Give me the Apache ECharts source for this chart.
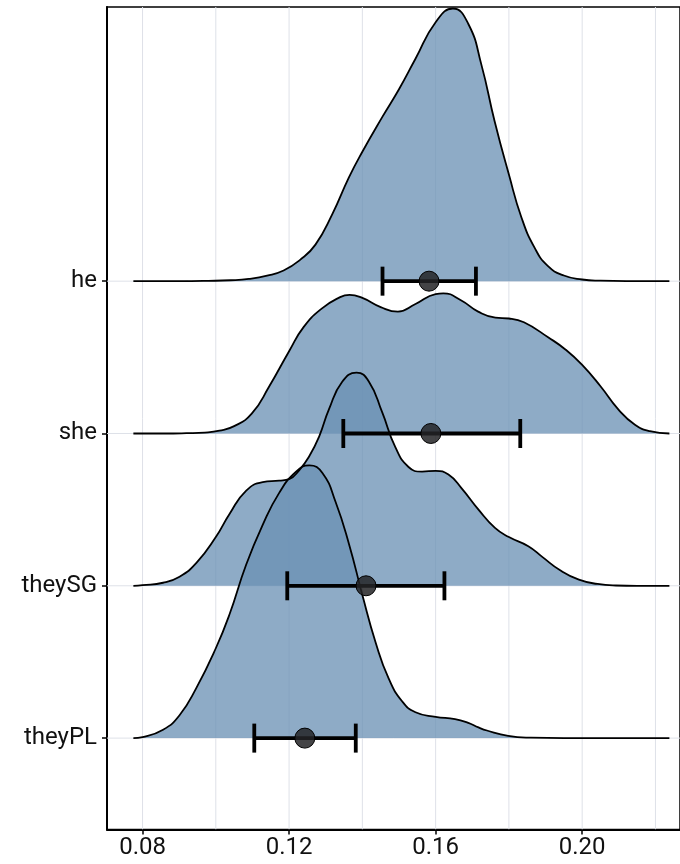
<!DOCTYPE html>
<html><head><meta charset="utf-8">
<script src="https://cdn.jsdelivr.net/npm/echarts@6/dist/echarts.min.js"></script>
<style>html,body{margin:0;padding:0;background:#fff}#c{width:680px;height:864px}</style>
</head><body><div id="c"></div>
<script>
// categories bottom -> top
const categories = ['theyPL', 'theySG', 'she', 'he'];
const xTicks = [0.08, 0.12, 0.16, 0.20];
const xGrid = [0.08, 0.10, 0.12, 0.14, 0.16, 0.18, 0.20, 0.22];

// ridge heights (in category units) at x
const heDensity = [[0.0775,0],[0.090,0],[0.098,0.002],[0.104,0.006],[0.109,0.015],[0.114,0.036],[0.1185,0.07],[0.123,0.14],[0.1272,0.24],[0.1318,0.44],[0.1363,0.68],[0.140,0.85],[0.1455,1.08],[0.150,1.26],[0.1545,1.46],[0.160,1.70],[0.1647,1.79],[0.1689,1.69],[0.1725,1.42],[0.1761,1.05],[0.180,0.70],[0.1834,0.42],[0.187,0.22],[0.1906,0.10],[0.195,0.037],[0.200,0.011],[0.205,0.003],[0.212,0],[0.2238,0]];
const sheDensity = [[0.0775,0],[0.086,0],[0.092,0.002],[0.097,0.006],[0.101,0.018],[0.105,0.048],[0.1098,0.13],[0.1146,0.31],[0.120,0.54],[0.124,0.70],[0.1289,0.82],[0.1335,0.89],[0.1365,0.91],[0.140,0.89],[0.145,0.83],[0.1497,0.80],[0.1545,0.85],[0.160,0.915],[0.1621,0.92],[0.1669,0.875],[0.1716,0.80],[0.1763,0.76],[0.180,0.755],[0.1841,0.73],[0.1908,0.63],[0.1955,0.55],[0.200,0.45],[0.205,0.31],[0.2098,0.16],[0.2144,0.058],[0.2185,0.015],[0.2238,0]];
const theySGDensity = [[0.0775,0],[0.080,0.004],[0.0856,0.02],[0.0901,0.06],[0.0947,0.15],[0.100,0.32],[0.1037,0.47],[0.1083,0.625],[0.1128,0.68],[0.1173,0.69],[0.120,0.70],[0.1228,0.76],[0.1255,0.85],[0.1282,0.98],[0.1309,1.16],[0.1345,1.34],[0.1384,1.40],[0.1418,1.34],[0.1454,1.14],[0.149,0.91],[0.1526,0.78],[0.1563,0.75],[0.160,0.755],[0.1635,0.73],[0.1671,0.64],[0.1717,0.50],[0.1762,0.38],[0.180,0.32],[0.1853,0.26],[0.1891,0.19],[0.1941,0.10],[0.1991,0.04],[0.2042,0.012],[0.2092,0.002],[0.215,0],[0.2238,0]];
const theyPLDensity = [[0.0775,0],[0.080,0.007],[0.0856,0.055],[0.0901,0.15],[0.0947,0.33],[0.100,0.59],[0.1037,0.81],[0.1083,1.14],[0.1128,1.40],[0.1173,1.61],[0.1219,1.75],[0.1255,1.79],[0.1291,1.74],[0.1327,1.55],[0.1364,1.27],[0.140,0.94],[0.1436,0.63],[0.1472,0.39],[0.1509,0.24],[0.1545,0.17],[0.160,0.14],[0.1653,0.125],[0.1689,0.10],[0.1717,0.07],[0.174,0.05],[0.1798,0.015],[0.186,0.003],[0.195,0],[0.2238,0]];

// interval estimates (bottom -> top)
const ciLow  = [0.1105, 0.1195, 0.1348, 0.1455];
const means  = [0.1243, 0.1410, 0.1587, 0.1582];
const ciHigh = [0.1382, 0.1624, 0.1831, 0.1710];

const densities = [theyPLDensity, theySGDensity, sheDensity, heDensity];
const X_MIN = 0.0703, X_MAX = 0.2267, Y_MIN = 0.4, Y_MAX = 5.8;
const FILL = 'rgba(107,145,180,0.76)';
const GRID_COLOR = '#DEE1E8';

const chart = echarts.init(document.getElementById('c'), null, {renderer: 'canvas'});

const series = [];
series.push({
  type: 'custom', silent: true, z: 1, clip: true,
  data: xGrid.map(v => [v, Y_MIN]),
  encode: {x: 0, y: 1},
  renderItem: (params, api) => {
    const x = api.value(0);
    const p1 = api.coord([x, Y_MIN]), p2 = api.coord([x, Y_MAX]);
    return {type: 'line', shape: {x1: p1[0], y1: p1[1], x2: p2[0], y2: p2[1]}, style: {stroke: GRID_COLOR, lineWidth: 1}};
  }
});
series.push({
  type: 'custom', silent: true, z: 1, clip: true,
  data: categories.map((c, i) => [X_MIN, i + 1]),
  encode: {x: 0, y: 1},
  renderItem: (params, api) => {
    const y = api.value(1);
    const p1 = api.coord([X_MIN, y]), p2 = api.coord([X_MAX, y]);
    return {type: 'line', shape: {x1: p1[0], y1: p1[1], x2: p2[0], y2: p2[1]}, style: {stroke: GRID_COLOR, lineWidth: 1}};
  }
});
for (let i = categories.length - 1; i >= 0; i--) {
  const base = i + 1;
  series.push({
    type: 'line', name: categories[i], z: 2,
    data: densities[i].map(p => [p[0], base + p[1]]),
    smooth: 0.5, symbol: 'none', silent: true,
    lineStyle: {color: '#000', width: 1.8},
    areaStyle: {color: FILL, origin: base, opacity: 1}
  });
}
series.push({
  type: 'custom', z: 4, silent: true,
  data: categories.map((c, i) => [i + 1, ciLow[i], ciHigh[i]]),
  encode: {x: [1, 2], y: 0},
  renderItem: (params, api) => {
    const y = api.value(0);
    const a = api.coord([api.value(1), y]), b = api.coord([api.value(2), y]);
    const h = 14.5;
    const st = {stroke: '#000', lineWidth: 3.8};
    return {type: 'group', children: [
      {type: 'line', shape: {x1: a[0], y1: a[1], x2: b[0], y2: b[1]}, style: st},
      {type: 'line', shape: {x1: a[0], y1: a[1] - h, x2: a[0], y2: a[1] + h}, style: st},
      {type: 'line', shape: {x1: b[0], y1: b[1] - h, x2: b[0], y2: b[1] + h}, style: st}
    ]};
  }
});
series.push({
  type: 'scatter', z: 5, silent: true,
  data: categories.map((c, i) => [means[i], i + 1]),
  symbol: 'circle', symbolSize: 20,
  itemStyle: {color: 'rgba(35,35,38,0.85)', borderColor: '#000', borderWidth: 1, opacity: 1}
});

chart.setOption({
  animation: false,
  backgroundColor: '#fff',
  grid: {left: 107, top: 7, right: -3, bottom: 34.5, show: true, borderColor: '#000', borderWidth: 1.5, backgroundColor: 'transparent'},
  xAxis: {
    type: 'value', min: X_MIN, max: X_MAX,
    axisLine: {show: true, onZero: false, lineStyle: {color: '#000', width: 2}},
    axisTick: {show: true, customValues: xTicks, length: 5, lineStyle: {color: '#000', width: 1.5}},
    axisLabel: {customValues: xTicks, formatter: v => v.toFixed(2), fontSize: 24, fontFamily: 'Roboto', color: '#111', margin: 6},
    splitLine: {show: false}
  },
  yAxis: {
    type: 'value', min: Y_MIN, max: Y_MAX,
    axisLine: {show: true, onZero: false, lineStyle: {color: '#000', width: 2}},
    axisTick: {show: true, customValues: [1, 2, 3, 4], length: 5, lineStyle: {color: '#000', width: 1.5}},
    axisLabel: {customValues: [1, 2, 3, 4], formatter: v => categories[Math.round(v) - 1], fontSize: 24, fontFamily: 'Roboto', color: '#111', margin: 10},
    splitLine: {show: false}
  },
  series: series
});
</script></body></html>
